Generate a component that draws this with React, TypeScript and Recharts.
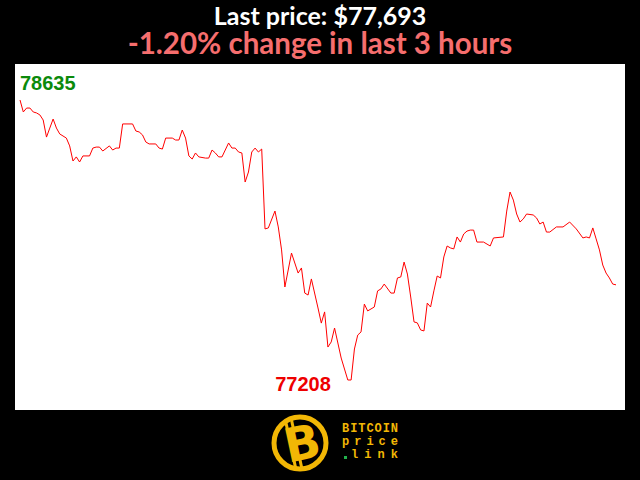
import { LineChart, Line, XAxis, YAxis, ReferenceDot } from "recharts";

// minute index (0..180 over the last 3 hours) and price at that minute
const MINUTES = [
  0, 1, 2, 3, 4, 5, 6, 7, 8, 9, 10, 11, 12, 14, 15, 16, 17, 18, 19, 21, 22, 23,
  24, 25, 27, 28, 29, 30, 31, 34, 35, 36, 37, 38, 39, 41, 42, 43, 44, 46, 47,
  48, 49, 50, 51, 52, 53, 54, 56, 57, 58, 59, 60, 61, 63, 64, 65, 66, 67, 68,
  69, 70, 71, 72, 73, 74, 75, 77, 78, 79, 80, 82, 84, 85, 86, 87, 88, 90, 91,
  92, 93, 94, 95, 97, 99, 100, 101, 102, 103, 104, 105, 107, 108, 109, 110,
  112, 113, 114, 115, 116, 117, 118, 119, 120, 121, 122, 123, 124, 125, 126,
  127, 128, 129, 130, 131, 132, 133, 134, 135, 136, 137, 138, 140, 142, 143,
  146, 147, 148, 149, 150, 151, 152, 153, 155, 156, 157, 158, 159, 160, 162,
  164, 166, 168, 170, 171, 172, 173, 174, 175, 176, 177, 178, 179, 180,
];

const PRICES = [
  78635, 78574, 78594, 78594, 78574, 78569, 78559, 78533, 78446, 78492, 78538,
  78492, 78462, 78441, 78401, 78324, 78345, 78319, 78350, 78350, 78390, 78395,
  78395, 78375, 78401, 78380, 78390, 78390, 78513, 78513, 78477, 78472, 78457,
  78421, 78411, 78411, 78390, 78385, 78441, 78441, 78431, 78431, 78482, 78441,
  78350, 78334, 78365, 78345, 78339, 78339, 78380, 78365, 78345, 78345, 78416,
  78390, 78390, 78370, 78365, 78217, 78268, 78370, 78390, 78370, 78385, 77978,
  77983, 78069, 77988, 77871, 77682, 77855, 77753, 77779, 77651, 77641, 77723,
  77575, 77498, 77555, 77376, 77402, 77473, 77320, 77208, 77208, 77366, 77437,
  77453, 77595, 77560, 77580, 77662, 77672, 77697, 77651, 77651, 77728, 77733,
  77809, 77748, 77631, 77504, 77499, 77463, 77458, 77600, 77580, 77662, 77738,
  77728, 77835, 77891, 77881, 77876, 77937, 77911, 77952, 77967, 77972, 77972,
  77911, 77911, 77891, 77932, 77937, 78069, 78166, 78125, 78054, 78013, 78029,
  78054, 78049, 78034, 78003, 78013, 77962, 77962, 77988, 77988, 78013, 77978,
  77932, 77937, 77932, 77983, 77927, 77871, 77794, 77753, 77728, 77697, 77693,
];

const LAST_PRICE = "$77,693";
const CHANGE_TEXT = "-1.20% change in last 3 hours";
const HIGH = 78635;
const LOW = 77208;
const HIGH_MINUTE = 0;
const LOW_MINUTE = 99;

const data = MINUTES.map((m, i) => ({ minute: m, price: PRICES[i] }));

const GOLD = "#f2b705";

function Logo() {
  return (
    <svg width={140} height={70} style={{ position: "absolute", left: 265, top: 410 }}>
      <circle cx={35} cy={33} r={26} fill="none" stroke={GOLD} strokeWidth={5} />
      <g transform="rotate(-12 35 33)">
        <rect x={24} y={8} width={3} height={9} fill={GOLD} />
        <rect x={30} y={8} width={3} height={9} fill={GOLD} />
        <rect x={24} y={49} width={3} height={9} fill={GOLD} />
        <rect x={30} y={49} width={3} height={9} fill={GOLD} />
        <text
          x={37}
          y={50}
          textAnchor="middle"
          fill={GOLD}
          fontFamily="DejaVu Sans"
          fontWeight="bold"
          fontSize={47}
        >
          B
        </text>
      </g>
      <g fontFamily="Liberation Mono" fontWeight="bold" fontSize={12} fill={GOLD}>
        <text x={77} y={22} textLength={56}>BITCOIN</text>
        <text x={77} y={35} textLength={56}>price</text>
        <text x={86} y={48} textLength={47}>link</text>
      </g>
      <rect x={79} y={46} width={3} height={3} fill="#22b14c" />
    </svg>
  );
}

export default function App() {
  return (
    <div style={{ position: "relative", width: 640, height: 480, background: "#000", overflow: "hidden" }}>
      <style>{`body{margin:0}`}</style>
      <svg width={640} height={64} style={{ position: "absolute", left: 0, top: 0 }}>
        <text x={320} y={25} textAnchor="middle" fill="#fff" fontFamily="Lato" fontWeight="bold" fontSize={25}>
          Last price: {LAST_PRICE}
        </text>
        <text x={320} y={54} textAnchor="middle" fill="#f66e6e" fontFamily="Lato" fontWeight="bold" fontSize={29.5}>
          {CHANGE_TEXT}
        </text>
      </svg>
      <div style={{ position: "absolute", left: 15, top: 64, width: 610, height: 346, background: "#fff" }}>
        <LineChart width={610} height={346} data={data} margin={{ top: 36, right: 9, bottom: 30, left: 5 }}>
          <XAxis type="number" dataKey="minute" domain={[0, 180]} hide />
          <YAxis type="number" domain={[LOW, HIGH]} hide />
          <Line
            type="linear"
            dataKey="price"
            stroke="#ff0000"
            strokeWidth={1}
            dot={false}
            isAnimationActive={false}
          />
          <ReferenceDot
            x={HIGH_MINUTE}
            y={HIGH}
            ifOverflow="visible"
            shape={(p: any) => (
              <text x={p.cx} y={p.cy - 10} fill="#0b8a0b" fontFamily="Liberation Sans" fontWeight="bold" fontSize={20}>
                {HIGH}
              </text>
            )}
          />
          <ReferenceDot
            x={LOW_MINUTE}
            y={LOW}
            ifOverflow="visible"
            shape={(p: any) => (
              <text
                x={p.cx - 17}
                y={p.cy + 11}
                textAnchor="end"
                fill="#ee0000"
                fontFamily="Liberation Sans"
                fontWeight="bold"
                fontSize={20}
              >
                {LOW}
              </text>
            )}
          />
        </LineChart>
      </div>
      <Logo />
    </div>
  );
}
